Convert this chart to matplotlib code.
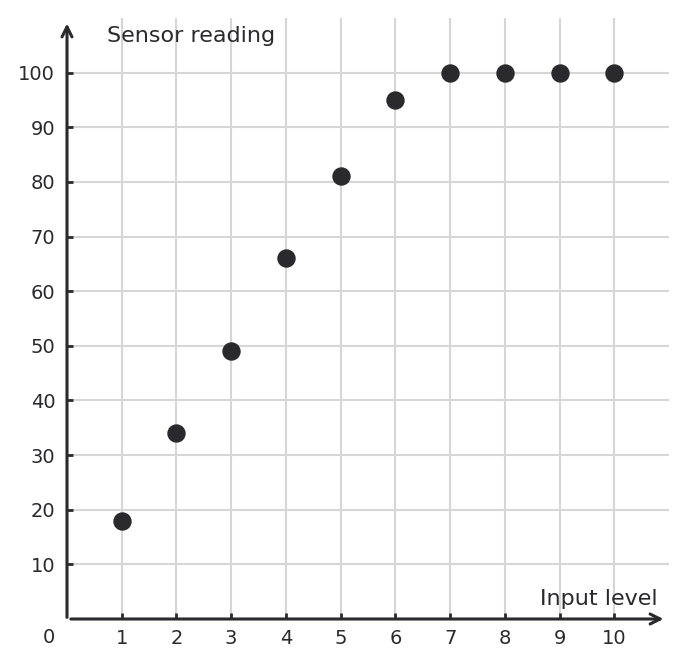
import numpy as np
import matplotlib.pyplot as plt

plt.rcParams['font.family'] = ['DejaVu Sans']

levels = [1, 2, 3, 4, 5, 6, 7, 8, 9, 10]
readings = [18, 34, 49, 66, 81, 95, 100, 100, 100, 100]
xticks = [1, 2, 3, 4, 5, 6, 7, 8, 9, 10]
yticks = [10, 20, 30, 40, 50, 60, 70, 80, 90, 100]

dark = '#2a2a2e'
grid_c = '#d6d6d6'

fig = plt.figure(figsize=(6.87, 6.68), dpi=100)
ax = fig.add_axes([67 / 687, 49 / 668, 602 / 687, 601 / 668])
ax.set_xlim(0, 11.0)
ax.set_ylim(0, 110)

for x in xticks:
    ax.axvline(x, color=grid_c, lw=1.5, zorder=0)
for y in yticks:
    ax.axhline(y, color=grid_c, lw=1.5, zorder=0)

ax.scatter(levels, readings, s=150, color=dark, zorder=3)

for s in ax.spines.values():
    s.set_visible(False)

# axes with arrows
ax.annotate('', xy=(10.9, 0), xytext=(0.07, 0), xycoords='data',
            arrowprops=dict(arrowstyle='->', color=dark, lw=2.2,
                            shrinkA=0, shrinkB=0, mutation_scale=18),
            annotation_clip=False)
ax.annotate('', xy=(0, 109.0), xytext=(0, 0.3), xycoords='data',
            arrowprops=dict(arrowstyle='->', color=dark, lw=2.2,
                            shrinkA=0, shrinkB=0, mutation_scale=18),
            annotation_clip=False)

ax.set_xticks(xticks)
ax.set_yticks(yticks)
ax.tick_params(direction='in', length=4, width=2, color=dark,
               labelsize=14, labelcolor=dark)
ax.tick_params(axis='x', pad=7)
ax.tick_params(axis='y', pad=8.5)
ax.text(-0.33, -3.3, '0', ha='center', va='center', fontsize=14, color=dark)

ax.text(0.73, 106.7, 'Sensor reading', fontsize=16, color=dark,
        ha='left', va='center')
ax.text(10.8, 3.7, 'Input level', fontsize=16, color=dark,
        ha='right', va='center')

fig.savefig('out.png', dpi=100)
